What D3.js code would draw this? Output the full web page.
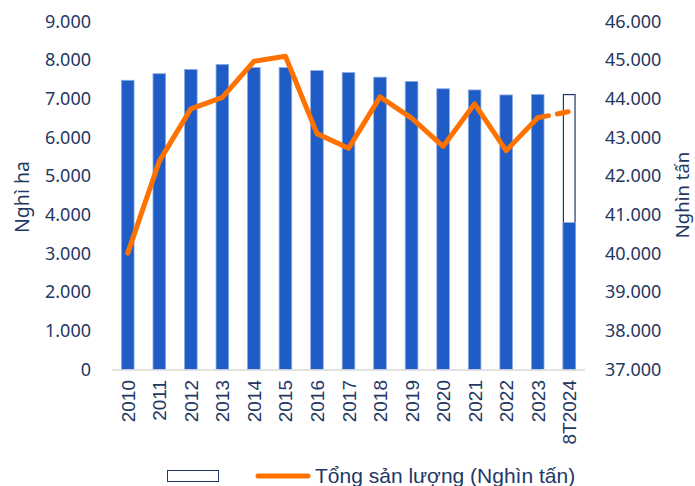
<!DOCTYPE html>
<html>
<head>
<meta charset="utf-8">
<script src="https://cdn.jsdelivr.net/npm/d3@7"></script>
<style>
  body { margin: 0; background: #fff; }
  svg { display: block; }
</style>
</head>
<body>
<div id="chart"></div>
<script>
const years = ['2010', '2011', '2012', '2013', '2014', '2015', '2016', '2017',
  '2018', '2019', '2020', '2021', '2022', '2023', '8T2024'];
// dien tich (nghin ha)
const area = [7480, 7650, 7760, 7890, 7810, 7810, 7730, 7680,
  7560, 7450, 7260, 7230, 7100, 7110, 3800];
// phan ke hoach con lai cho 8T2024 (cot rong)
const areaPlan = [0, 0, 0, 0, 0, 0, 0, 0, 0, 0, 0, 0, 0, 0, 7110];
// tong san luong (nghin tan)
const output = [40010, 42390, 43740, 44040, 44970, 45100, 43100, 42720,
  44050, 43500, 42770, 43870, 42660, 43510, 43670];
const leftTicks = [0, 1000, 2000, 3000, 4000, 5000, 6000, 7000, 8000, 9000];
const rightTicks = [37000, 38000, 39000, 40000, 41000, 42000, 43000, 44000, 45000, 46000];
const lineLabel = 'Tổng sản lượng (Nghìn tấn)';

const width = 695, height = 486;
const navy = '#1f3864';
const blue = '#1f5cc5';
const orange = '#ff7200';

const svg = d3.select('#chart').append('svg')
  .attr('width', width)
  .attr('height', height);

const x = d3.scaleBand()
  .domain(years)
  .range([112, 585])
  .paddingInner(0.6)
  .paddingOuter(0.3);

const yL = d3.scaleLinear().domain([0, 9000]).range([369.5, 21.5]);
const yR = d3.scaleLinear().domain([37000, 46000]).range([369.5, 21.5]);

const fmt = d => d3.format(',')(d).replace(/,/g, '.');

// left axis
const axL = svg.append('g')
  .attr('transform', 'translate(100,0)')
  .call(d3.axisLeft(yL).tickValues(leftTicks).tickFormat(fmt).tickSize(0).tickPadding(9));
axL.select('.domain').remove();
axL.selectAll('text')
  .attr('font-family', 'Noto Sans')
  .attr('font-size', 18)
  .attr('fill', navy);

// right axis
const axR = svg.append('g')
  .attr('transform', 'translate(596,0)')
  .call(d3.axisRight(yR).tickValues(rightTicks).tickFormat(fmt).tickSize(0).tickPadding(9));
axR.select('.domain').remove();
axR.selectAll('text')
  .attr('font-family', 'Noto Sans')
  .attr('font-size', 18)
  .attr('fill', navy);

// axis titles
svg.append('text')
  .attr('transform', `translate(29,${197}) rotate(-90)`)
  .attr('text-anchor', 'middle')
  .attr('font-family', 'Noto Sans')
  .attr('font-size', 19.5)
  .attr('fill', navy)
  .text('Nghì ha');

svg.append('text')
  .attr('transform', `translate(689,${195}) rotate(-90)`)
  .attr('text-anchor', 'middle')
  .attr('font-family', 'Noto Sans')
  .attr('font-size', 18.5)
  .attr('fill', navy)
  .text('Nghìn tấn');

// plan outline bar
svg.selectAll('rect.plan')
  .data(years.map((y, i) => ({ y, v: areaPlan[i] })).filter(d => d.v > 0))
  .enter().append('rect')
  .attr('class', 'plan')
  .attr('x', d => x(d.y) + 0.5)
  .attr('width', x.bandwidth() - 1)
  .attr('y', d => yL(d.v))
  .attr('height', d => yL(0) - yL(d.v))
  .attr('fill', '#fff')
  .attr('stroke', navy)
  .attr('stroke-width', 1.2);

// bars
svg.selectAll('rect.bar')
  .data(years.map((y, i) => ({ y, v: area[i] })))
  .enter().append('rect')
  .attr('class', 'bar')
  .attr('x', d => x(d.y))
  .attr('width', x.bandwidth())
  .attr('y', d => yL(d.v))
  .attr('height', d => yL(0) - yL(d.v))
  .attr('fill', blue)
  .attr('stroke', '#8aaae6')
  .attr('stroke-width', 0.8);

// baseline
svg.append('line')
  .attr('x1', 112).attr('x2', 585)
  .attr('y1', yL(0) + 0.5).attr('y2', yL(0) + 0.5)
  .attr('stroke', '#d9d9d9')
  .attr('stroke-width', 1.5);

// x labels
svg.append('g')
  .selectAll('text')
  .data(years)
  .enter().append('text')
  .attr('transform', d => `translate(${x(d) + x.bandwidth() / 2 + 7},380) rotate(-90)`)
  .attr('text-anchor', 'end')
  .attr('font-family', 'Liberation Sans')
  .attr('font-size', 19)
  .attr('fill', navy)
  .text(d => d);

// output line
const pts = years.map((y, i) => ({ y, v: output[i] }));
const line = d3.line()
  .x(d => x(d.y) + x.bandwidth() / 2)
  .y(d => yR(d.v));

svg.append('path')
  .datum(pts.slice(0, pts.length - 1))
  .attr('d', line)
  .attr('fill', 'none')
  .attr('stroke', orange)
  .attr('stroke-width', 5)
  .attr('stroke-linejoin', 'round')
  .attr('stroke-linecap', 'round');

svg.append('path')
  .datum(pts.slice(pts.length - 2))
  .attr('d', line)
  .attr('fill', 'none')
  .attr('stroke', orange)
  .attr('stroke-width', 5)
  .attr('stroke-dasharray', '11,9')
  .attr('stroke-linecap', 'round');

// legend
const lg = svg.append('g');
lg.append('rect')
  .attr('x', 167.5).attr('y', 470.5)
  .attr('width', 51).attr('height', 11)
  .attr('fill', '#fff')
  .attr('stroke', navy)
  .attr('stroke-width', 1);
lg.append('line')
  .attr('x1', 258).attr('x2', 308)
  .attr('y1', 476).attr('y2', 476)
  .attr('stroke', orange)
  .attr('stroke-width', 5)
  .attr('stroke-linecap', 'round');
lg.append('text')
  .attr('x', 315).attr('y', 483)
  .attr('font-family', 'Liberation Sans')
  .attr('font-size', 21)
  .attr('fill', navy)
  .text(lineLabel);
</script>
</body>
</html>
